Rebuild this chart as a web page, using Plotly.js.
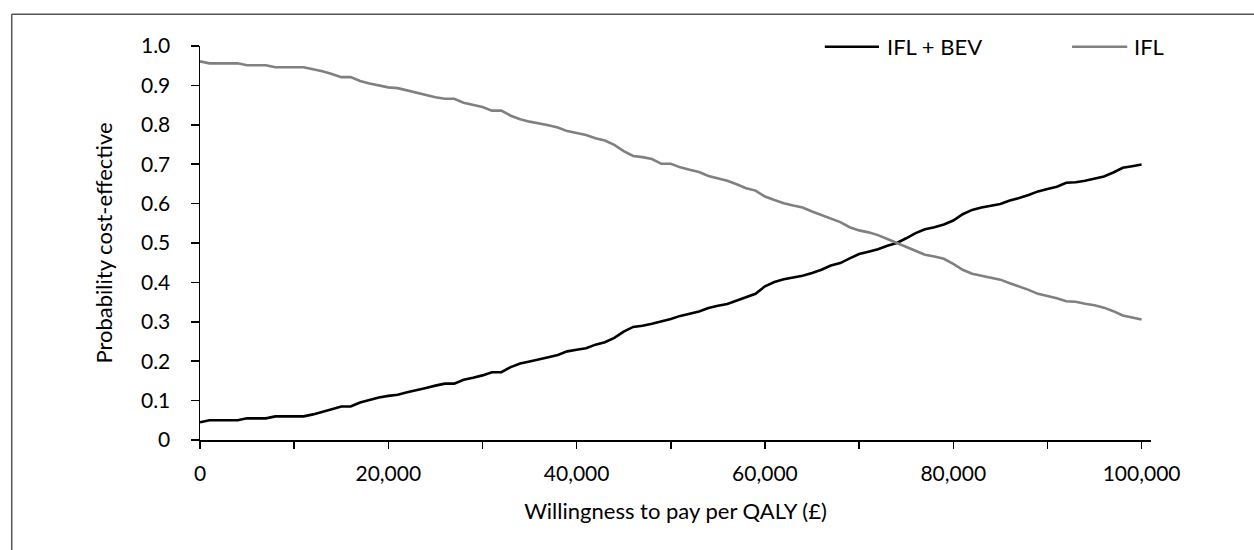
<!DOCTYPE html>
<html>
<head>
<meta charset="utf-8">
<script src="https://cdn.plot.ly/plotly-3.0.1.min.js"></script>
<style>
  html, body { margin: 0; padding: 0; background: #fff; }
  #chart { width: 1254px; height: 550px; }
</style>
</head>
<body>
<div id="chart"></div>
<script>
// Willingness to pay per QALY (£)
const wtp = [
  0, 1000, 2000, 3000, 4000, 5000, 6000, 7000, 8000, 9000,
  10000, 11000, 12000, 13000, 14000, 15000, 16000, 17000, 18000, 19000,
  20000, 21000, 22000, 23000, 24000, 25000, 26000, 27000, 28000, 29000,
  30000, 31000, 32000, 33000, 34000, 35000, 36000, 37000, 38000, 39000,
  40000, 41000, 42000, 43000, 44000, 45000, 46000, 47000, 48000, 49000,
  50000, 51000, 52000, 53000, 54000, 55000, 56000, 57000, 58000, 59000,
  60000, 61000, 62000, 63000, 64000, 65000, 66000, 67000, 68000, 69000,
  70000, 71000, 72000, 73000, 74000, 75000, 76000, 77000, 78000, 79000,
  80000, 81000, 82000, 83000, 84000, 85000, 86000, 87000, 88000, 89000,
  90000, 91000, 92000, 93000, 94000, 95000, 96000, 97000, 98000, 99000,
  100000
];

// Probability cost-effective: IFL + BEV
const iflBev = [
  0.045, 0.050, 0.050, 0.050, 0.050, 0.055, 0.055, 0.055, 0.060, 0.060,
  0.060, 0.060, 0.065, 0.071, 0.078, 0.085, 0.085, 0.095, 0.102, 0.108,
  0.112, 0.115, 0.121, 0.126, 0.132, 0.138, 0.143, 0.143, 0.153, 0.158,
  0.164, 0.172, 0.172, 0.185, 0.194, 0.199, 0.204, 0.210, 0.216, 0.225,
  0.229, 0.233, 0.242, 0.248, 0.259, 0.275, 0.287, 0.290, 0.295, 0.301,
  0.307, 0.315, 0.321, 0.326, 0.335, 0.341, 0.345, 0.354, 0.364, 0.371,
  0.390, 0.401, 0.408, 0.413, 0.417, 0.424, 0.432, 0.443, 0.449, 0.461,
  0.472, 0.478, 0.484, 0.493, 0.500, 0.512, 0.525, 0.535, 0.540, 0.547,
  0.557, 0.573, 0.584, 0.590, 0.594, 0.599, 0.608, 0.614, 0.622, 0.631,
  0.637, 0.643, 0.653, 0.654, 0.658, 0.663, 0.669, 0.679, 0.691, 0.695,
  0.699
];

// Probability cost-effective: IFL
const ifl = [
  0.961, 0.956, 0.956, 0.956, 0.956, 0.951, 0.951, 0.951, 0.946, 0.946,
  0.946, 0.946, 0.941, 0.936, 0.929, 0.921, 0.921, 0.911, 0.905, 0.900,
  0.895, 0.893, 0.887, 0.882, 0.876, 0.870, 0.866, 0.866, 0.856, 0.850,
  0.845, 0.836, 0.836, 0.823, 0.814, 0.808, 0.804, 0.799, 0.793, 0.784,
  0.779, 0.774, 0.766, 0.760, 0.749, 0.733, 0.721, 0.718, 0.713, 0.701,
  0.701, 0.692, 0.686, 0.680, 0.670, 0.664, 0.658, 0.649, 0.639, 0.633,
  0.618, 0.609, 0.601, 0.595, 0.590, 0.580, 0.571, 0.560, 0.553, 0.540,
  0.532, 0.527, 0.520, 0.510, 0.500, 0.489, 0.479, 0.470, 0.466, 0.460,
  0.447, 0.432, 0.422, 0.417, 0.412, 0.407, 0.398, 0.390, 0.381, 0.371,
  0.365, 0.360, 0.352, 0.351, 0.346, 0.342, 0.336, 0.327, 0.316, 0.311,
  0.306
];

const seriesNames = ['IFL + BEV', 'IFL'];
const seriesColors = ['#000000', '#808080'];

const xTickVals = [0, 20000, 40000, 60000, 80000, 100000];
const xTickText = ['0', '20,000', '40,000', '60,000', '80,000', '100,000'];
const yTickVals = [0, 0.1, 0.2, 0.3, 0.4, 0.5, 0.6, 0.7, 0.8, 0.9, 1.0];
const yTickText = ['0', '0.1', '0.2', '0.3', '0.4', '0.5', '0.6', '0.7', '0.8', '0.9', '1.0'];

const FONT = 'Lato, "Open Sans", sans-serif';
const TICK_SIZE = 21;
const TEXT_SIZE = 22;

const traces = [
  { x: wtp, y: iflBev, name: seriesNames[0], type: 'scatter', mode: 'lines',
    line: { color: seriesColors[0], width: 2.6 }, hoverinfo: 'skip' },
  { x: wtp, y: ifl, name: seriesNames[1], type: 'scatter', mode: 'lines',
    line: { color: seriesColors[1], width: 2.6 }, hoverinfo: 'skip' }
];

// Hand-laid legend: long line swatches followed by labels, in one row
const legendRow = 0.998;
const legendItems = [
  { x0: 0.657, x1: 0.714, label: 0.720 },
  { x0: 0.917, x1: 0.975, label: 0.980 }
];
const shapes = [];
const annotations = [];
legendItems.forEach((it, i) => {
  shapes.push({ type: 'line', xref: 'paper', yref: 'paper',
    x0: it.x0, x1: it.x1, y0: legendRow, y1: legendRow,
    line: { color: seriesColors[i], width: 2.6 } });
  annotations.push({ xref: 'paper', yref: 'paper', x: it.label, y: legendRow,
    xanchor: 'left', yanchor: 'middle', showarrow: false, text: seriesNames[i],
    font: { family: FONT, size: TEXT_SIZE, color: '#000' } });
});

// Frame around the figure (open to the right and bottom)
shapes.push({ type: 'line', xref: 'paper', yref: 'paper',
  x0: -0.198, x1: 1.2, y0: 1.0805, y1: 1.0805, line: { color: '#555', width: 1.5 } });
shapes.push({ type: 'line', xref: 'paper', yref: 'paper',
  x0: -0.198, x1: -0.198, y0: 1.0805, y1: -0.35, line: { color: '#555', width: 1.5 } });

const layout = {
  width: 1254, height: 550,
  margin: { l: 200, r: 103, t: 46, b: 110 },
  paper_bgcolor: '#ffffff', plot_bgcolor: '#ffffff',
  showlegend: false,
  font: { family: FONT, size: TICK_SIZE, color: '#000' },
  xaxis: {
    range: [0, 101000], showgrid: false, zeroline: false,
    showline: true, linecolor: '#000', linewidth: 1.5,
    ticks: 'outside', ticklen: 7, tickwidth: 1.5, tickcolor: '#000',
    tickvals: xTickVals, ticktext: xTickText,
    minor: { ticks: 'outside', dtick: 10000, ticklen: 7, tickwidth: 1.5, tickcolor: '#000', showgrid: false },
    ticklabelstandoff: 7,
    title: { text: 'Willingness to pay per QALY (£)', standoff: 20, font: { family: FONT, size: TEXT_SIZE, color: '#000' } }
  },
  yaxis: {
    range: [0, 1], showgrid: false, zeroline: false,
    showline: true, linecolor: '#000', linewidth: 1.5,
    ticks: 'outside', ticklen: 8, tickwidth: 1.5, tickcolor: '#000',
    tickvals: yTickVals, ticktext: yTickText,
    ticklabelstandoff: 16,
    title: { text: 'Probability cost-effective', standoff: 22, font: { family: FONT, size: TEXT_SIZE, color: '#000' } }
  },
  shapes: shapes,
  annotations: annotations
};

Plotly.newPlot('chart', traces, layout, { displayModeBar: false, staticPlot: true });
</script>
</body>
</html>
